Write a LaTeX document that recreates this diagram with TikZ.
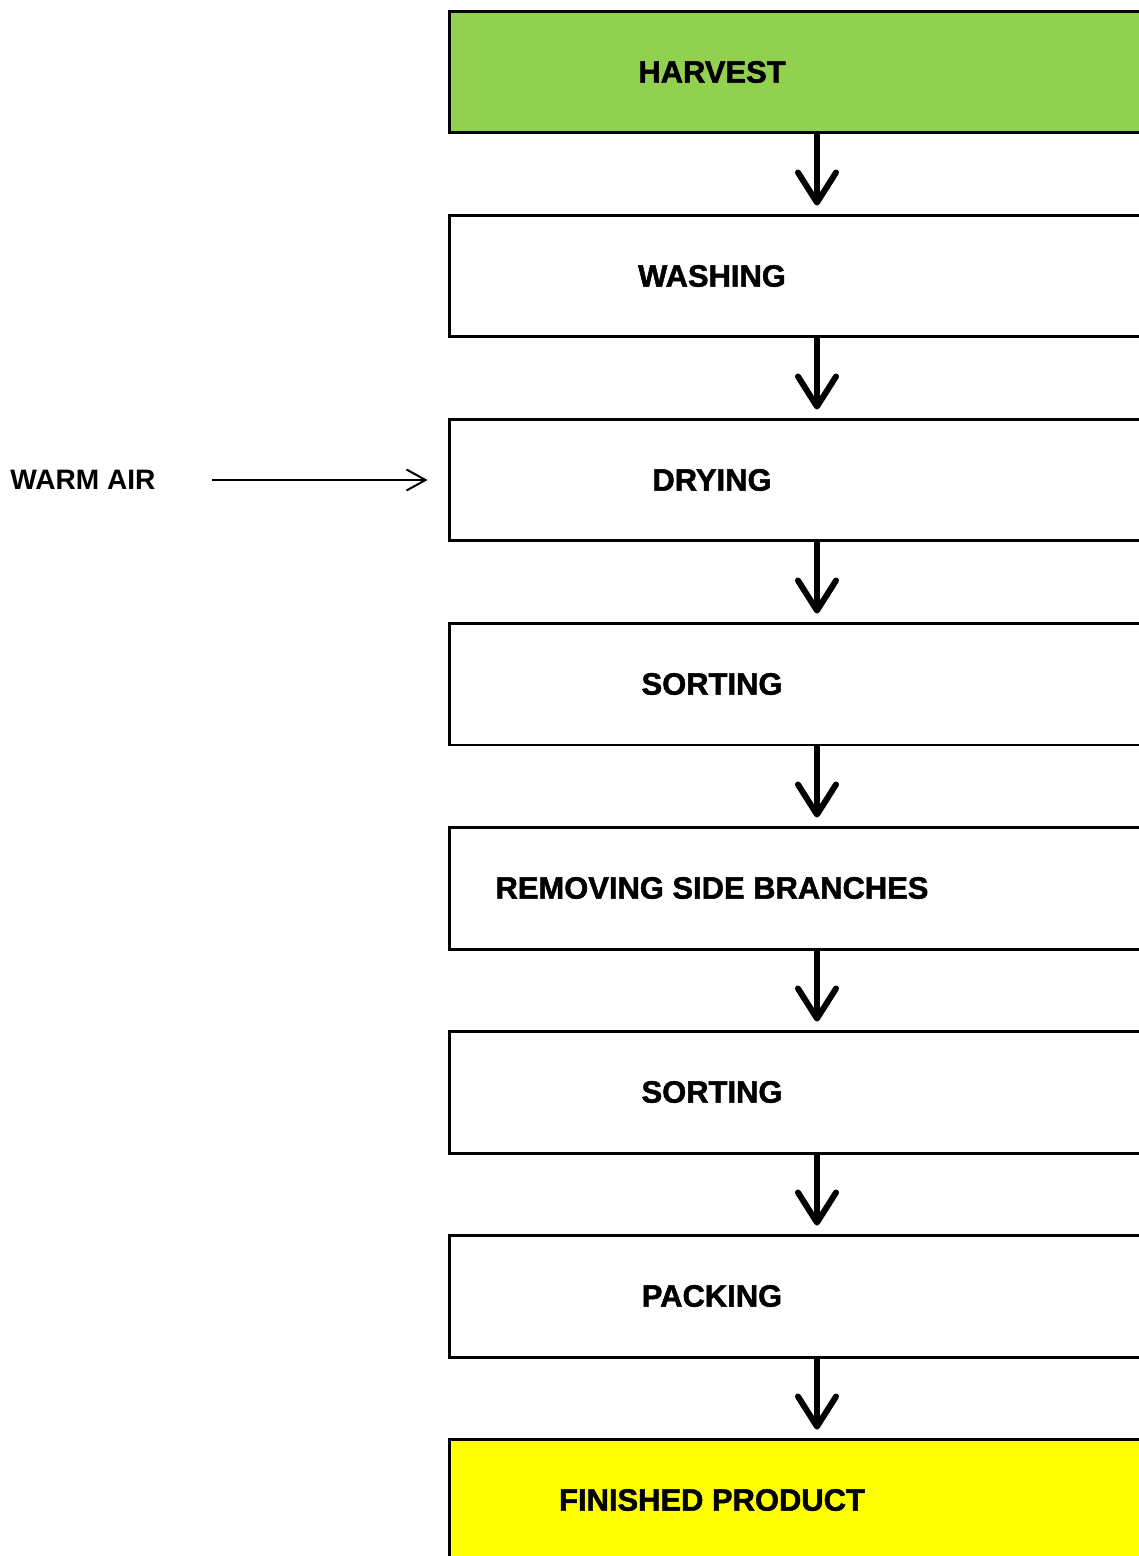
\documentclass[tikz,border=0pt]{standalone}
\usepackage{fontspec}
\setmainfont{Liberation Sans}
\newfontfamily\heavyfont{Liberation Sans Bold}[FakeBold=1.6]
\usetikzlibrary{positioning, arrows.meta}
\definecolor{harvestgreen}{HTML}{92D050}
\definecolor{productyellow}{HTML}{FFFF00}

\begin{document}
\begin{tikzpicture}[
  x=0.02cm, y=-0.02cm,
  stepbox/.style={draw, line width=0.06cm, minimum width=14.72cm, minimum height=2.44cm, inner sep=0pt},
  steptext/.style={font=\fontsize{17.6}{20}\selectfont\heavyfont, inner sep=0pt},
  flow/.style={line width=0.12cm, -{Straight Barb[length=0.6cm, width=0.76cm, round]}, shorten >=0.16cm},
  feed/.style={line width=0.04cm, -{Straight Barb[length=0.38cm, width=0.42cm]}}
]
\useasboundingbox (0,0) rectangle (1139,1556);
% Process steps (boxes run past the right edge)
\foreach \i/\txt/\col in {1/HARVEST/harvestgreen, 2/WASHING/white, 3/DRYING/white,
  4/SORTING/white, 5/REMOVING SIDE BRANCHES/white, 6/SORTING/white,
  7/PACKING/white, 8/FINISHED PRODUCT/productyellow} {
  \node[stepbox, fill=\col, label={[steptext, xshift=-2.1cm]center:\txt}] (b\i) at (817, {72+204*(\i-1)}) {};
}
% Flow arrows
\foreach \i [count=\j from 2] in {1,...,7} {
  \draw[flow] (b\i) -- (b\j);
}
% Warm air input
\node[font=\fontsize{16}{19}\selectfont\bfseries, inner sep=0pt, anchor=west] (air) at (10,480) {WARM AIR};
\draw[feed, shorten <=1.12cm, shorten >=0.4cm] (air.east) -- (b3.west);
\end{tikzpicture}
\end{document}
